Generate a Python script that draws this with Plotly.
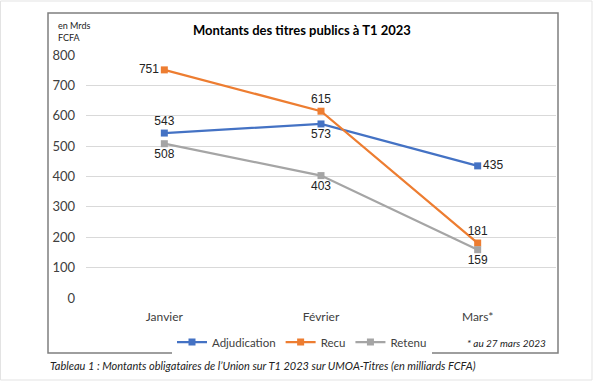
import plotly.graph_objects as go

mois = ["Janvier", "Février", "Mars*"]
adjudication = [543, 573, 435]
recu = [751, 615, 181]
retenu = [508, 403, 159]
y_ticks = [0, 100, 200, 300, 400, 500, 600, 700, 800]

pos_adj = ["top center", "bottom center", "middle right"]
pos_recu = ["middle left", "top center", "top center"]
pos_ret = ["bottom center", "bottom center", "bottom center"]

L, R, T, B = 86, 556, 55, 298
W, H = 600, 383

fig = go.Figure()
series = [
    ("Adjudication", adjudication, "#4472C4", pos_adj),
    ("Recu", recu, "#ED7D31", pos_recu),
    ("Retenu", retenu, "#A5A5A5", pos_ret),
]
for name, vals, col, pos in series:
    fig.add_trace(go.Scatter(
        x=mois, y=vals, name=name, mode="lines+markers+text",
        line=dict(color=col, width=2.25),
        marker=dict(symbol="square", size=7, color=col),
        text=[str(v) for v in vals], textposition=pos,
        textfont=dict(family="Liberation Sans, Arial", size=12, color="#222222"),
        cliponaxis=False,
    ))

def px(x):
    return (x - L) / (R - L)

def py(y):
    return (B - y) / (B - T)

fig.update_layout(
    width=W, height=H,
    margin=dict(l=L, r=W - R, t=T, b=H - B),
    paper_bgcolor="white", plot_bgcolor="white",
    font=dict(family="Lato, Open Sans, sans-serif", color="#404040"),
    showlegend=True,
    legend=dict(orientation="h", x=px(302), xanchor="center", y=py(342), yanchor="middle",
                font=dict(size=11.5, color="#404040"), itemwidth=30,
                traceorder="normal"),
    xaxis=dict(showgrid=False, showline=False, ticks="", tickfont=dict(size=12, color="#404040"),
               range=[-0.5, 2.5], fixedrange=True, ticklabelstandoff=10),
    yaxis=dict(range=[0, 800], tickvals=y_ticks, showgrid=True, gridcolor="#D9D9D9",
               gridwidth=1, zeroline=False, showline=False, ticks="",
               tickfont=dict(family="Lato, Open Sans, sans-serif", size=13, color="#404040"),
               ticklabelstandoff=10),
    shapes=[
        dict(type="rect", xref="paper", yref="paper", x0=px(48), x1=px(558), y0=py(353), y1=py(13),
             line=dict(color="#7F7F7F", width=1.5), layer="below"),
        dict(type="rect", xref="paper", yref="paper", x0=px(0.5), x1=px(592), y0=py(380), y1=py(1),
             line=dict(color="#E3E3E3", width=1), layer="below"),
    ],
    annotations=[
        dict(text="<b>Montants des titres publics à T1 2023</b>", xref="paper", yref="paper",
             x=px(302), y=py(30), xanchor="center", yanchor="middle", showarrow=False,
             font=dict(size=13, color="#000000")),
        dict(text="en Mrds<br>FCFA", xref="paper", yref="paper", x=px(56), y=py(31),
             xanchor="left", yanchor="middle", align="left", showarrow=False,
             font=dict(size=9, color="#222222")),
        dict(text="<i>* au 27 mars 2023</i>", xref="paper", yref="paper", x=px(548), y=py(343),
             xanchor="right", yanchor="middle", showarrow=False,
             font=dict(size=10, color="#222222")),
        dict(text="<i>Tableau 1 : Montants obligataires de l’Union sur T1 2023 sur UMOA-Titres (en milliards FCFA)</i>",
             xref="paper", yref="paper", x=px(48), y=py(365), xanchor="left", yanchor="middle",
             showarrow=False, font=dict(size=11, color="#222222")),
    ],
)

fig.write_html("out.html", config={"displayModeBar": False},
               post_script="document.body.style.margin='0';document.body.style.overflow='hidden';")
